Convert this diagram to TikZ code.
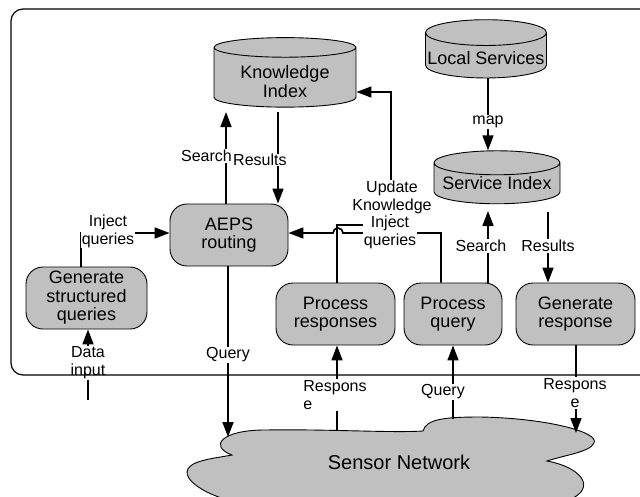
\documentclass[tikz,border=0pt]{standalone}
\usepackage{fontspec}
\setmainfont{Liberation Sans}
\usetikzlibrary{positioning, calc, shapes.geometric, arrows.meta}

\definecolor{boxgray}{RGB}{192,192,192}

\tikzset{
  box/.style={draw, fill=boxgray, line width=0.9pt, rounded corners=17pt, minimum height=62pt, inner sep=2pt, align=center, font=\fontsize{18}{18.5}\selectfont},
  store/.style={draw, fill=boxgray, line width=0.9pt, cylinder, shape border rotate=90, aspect=0.22, inner sep=0pt, align=center, font=\fontsize{18}{18.5}\selectfont},
  lbl/.style={fill=white, inner sep=1pt, align=center, font=\fontsize{16}{18}\selectfont},
  flow/.style={line width=1.7pt, -{Triangle[length=15pt,width=11pt]}},
}

\begin{document}
\begin{tikzpicture}[x=1pt,y=-1pt]

\useasboundingbox (0,0) rectangle (640,496);
\clip (0,0) rectangle (640,496);

% stores
\node[store, minimum width=142pt, minimum height=69pt] (kidx) at (285,77.5) {\rule{0pt}{21pt}Knowledge\\Index};
\node[store, minimum width=121pt, minimum height=55pt] (lsvc) at (486,55.5) {\rule{0pt}{19pt}Local Services};
\node[store, minimum width=126pt, minimum height=53pt] (sidx) at (497,183.5) {Service Index};

% processes
\node[box, minimum width=118pt] (aeps) at (229,235) {AEPS\\routing};
\node[box, minimum width=121pt] (gsq) at (86.5,298) {Generate\\structured\\queries};
\node[box, minimum width=119pt] (presp) at (335.5,314) {Process\\responses};
\node[box, minimum width=98pt] (pq) at (453,314) {Process\\query};
\node[box, minimum width=119pt] (gresp) at (575.5,314) {Generate\\response};

% sensor network (cloud)
\draw[fill=boxgray, line width=0.9pt]
  (232,455) .. controls (208,446) and (222,430) .. (265,430)
  .. controls (330,429) and (390,433) .. (423,431)
  .. controls (426,419) and (445,417) .. (480,417)
  .. controls (545,418) and (600,432) .. (594,443)
  .. controls (590,452) and (565,455) .. (547,461)
  .. controls (585,468) and (600,492) .. (560,503)
  -- (240,503)
  .. controls (200,495) and (170,472) .. (198,462)
  .. controls (210,458) and (222,457) .. (232,455) -- cycle;
\node[font=\fontsize{20}{22}\selectfont] (sn) at (399,462) {Sensor Network};

\coordinate (qdown) at (228,437);
\coordinate (rup) at (337,431);
\coordinate (qup) at (453,419);
\coordinate (rdown) at (576,433);
\coordinate (din) at (88,400);

% knowledge index
\draw[flow] (aeps.north -| 226,0) -- (226,112);
\draw[flow] (278,112) -- (aeps.north -| 278,0);
\node[lbl, anchor=east] at (233,156) {Search};
\node[lbl, anchor=west, inner sep=0pt] at (233,160) {Results};

% inject from generator
\draw[flow] (gsq.north -| 81,0) -- (81,233) -- (aeps.west |- 0,233);
\node[lbl] at (108,231) {Inject\\queries};

% update knowledge
\draw[flow] (presp.north -| 337,0) -- (337,225) -- (391,225) -- (391,92) -- (kidx.east |- 0,92);
% inject from process query, with hop
\draw[flow] (pq.north -| 441,0) -- (441,233) -- (343,233) arc (0:-180:5) -- (aeps.east |- 0,233);
\node[lbl] at (392,197) {Update\\Knowledge};
\node[lbl] at (390,232) {Inject\\queries};

% service index
\draw[flow] (lsvc.south -| 488,0) -- (sidx.north -| 488,0);
\node[lbl] at (488,122) {map};
\draw[flow] (pq.north -| 488,0) -- (488,211);
\node[lbl] at (481,246) {Search};
\draw[flow] (548,212) -- (gresp.north -| 548,0);
\node[lbl] at (548,246) {Results};

% sensor network links
\draw[flow] (aeps.south -| 228,0) -- (qdown);
\node[lbl] at (228,355) {Query};
\draw[flow] (rup) -- (presp.south -| 337,0);
\node[lbl, align=left] at (335,395) {Respons\\e};
\draw[flow] (qup) -- (pq.south -| 453,0);
\node[lbl] at (443,392) {Query};
\draw[flow] (gresp.south -| 576,0) -- (rdown);
\node[lbl] at (575,393) {Respons\\e};

% data input
\draw[flow] (din) -- (gsq.south -| 88,0);
\node[lbl] at (88,363) {Data\\input};

% frame
\draw[line width=1.2pt, rounded corners=12pt] (11,9) rectangle (660,375);

\end{tikzpicture}
\end{document}
